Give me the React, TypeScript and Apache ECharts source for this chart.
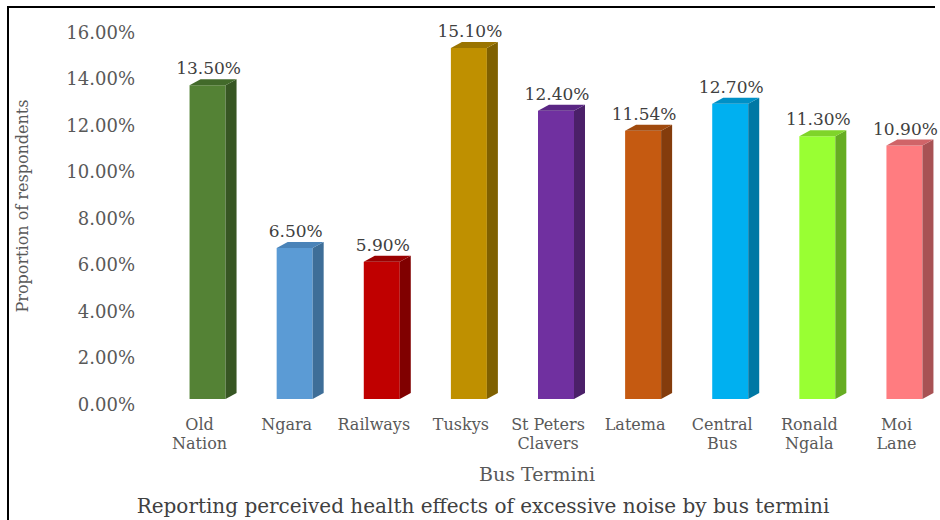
import React, { useEffect, useRef } from "react";
import * as echarts from "echarts";

const categories = ["Old\nNation", "Ngara", "Railways", "Tuskys", "St Peters\nClavers", "Latema", "Central\nBus", "Ronald\nNgala", "Moi\nLane"];
const values = [13.5, 6.5, 5.9, 15.1, 12.4, 11.54, 12.7, 11.3, 10.9];
const frontColors = ["#548235", "#5b9bd5", "#c00000", "#bf9000", "#7030a0", "#c55a11", "#00b0f0", "#99ff33", "#ff7c80"];
const sideColors = ["#375623", "#3e6e98", "#800000", "#7f6000", "#4b2069", "#843c0c", "#0078a4", "#66ad22", "#a85254"];
const topColors = ["#426a2a", "#4a83b8", "#9a0000", "#9a7400", "#5a2684", "#a04a0e", "#0090c6", "#7fd42a", "#d06468"];
const yTicks = { min: 0, max: 16, interval: 2 };

const FONT = "DejaVu Serif";

export default function App() {
  const ref = useRef<HTMLDivElement>(null);
  useEffect(() => {
    if (!ref.current) return;
    const chart = echarts.init(ref.current, null, { renderer: "svg" });
    const option: any = {
      animation: false,
      backgroundColor: "#ffffff",
      grid: { left: 156, right: 0, top: 32, bottom: 116 },
      xAxis: {
        type: "category",
        data: categories,
        axisLine: { show: false },
        axisTick: { show: false },
        axisLabel: {
          interval: 0,
          margin: 11,
          fontFamily: FONT,
          fontSize: 16,
          lineHeight: 19,
          color: "#595959",
        },
      },
      yAxis: {
        type: "value",
        min: yTicks.min,
        max: yTicks.max,
        interval: yTicks.interval,
        splitLine: { show: false },
        axisLine: { show: false },
        axisTick: { show: false },
        axisLabel: {
          margin: 21,
          fontFamily: FONT,
          fontSize: 18,
          color: "#595959",
          formatter: (v: number) => v.toFixed(2) + "%",
        },
      },
      title: [
        {
          text: "Bus Termini",
          left: 532,
          top: 459,
          textAlign: "center",
          textStyle: { fontFamily: FONT, fontSize: 19, fontWeight: "normal", color: "#595959" },
        },
        {
          text: "Reporting perceived health effects of excessive noise by bus termini",
          left: 478,
          top: 491,
          textAlign: "center",
          textStyle: { fontFamily: FONT, fontSize: 20, fontWeight: "normal", color: "#404040" },
        },
      ],
      graphic: [
        { type: "line", shape: { x1: 8, y1: 7, x2: 935, y2: 7 }, style: { stroke: "#000", lineWidth: 2 } },
        { type: "line", shape: { x1: 8, y1: 6, x2: 8, y2: 520 }, style: { stroke: "#000", lineWidth: 2 } },
        {
          type: "text",
          x: 22,
          y: 206,
          rotation: Math.PI / 2,
          style: {
            text: "Proportion of respondents",
            fontFamily: FONT,
            fontSize: 16,
            fill: "#595959",
            textAlign: "center",
            textVerticalAlign: "middle",
          },
        },
      ],
      series: [
        {
          type: "custom",
          data: values.map((v, i) => [i, v]),
          encode: { x: 0, y: 1 },
          renderItem: (params: any, api: any) => {
            const idx = params.dataIndex;
            const i = api.value(0);
            const v = api.value(1);
            const top = api.coord([i, v]);
            const base = api.coord([i, 0]);
            const shiftY = -5;
            const w = 36;
            const dx = 11;
            const dy = 6;
            const x0 = base[0] - 10;
            const yT = top[1] + shiftY;
            const yB = base[1] + shiftY;
            return {
              type: "group",
              children: [
                {
                  type: "polygon",
                  shape: { points: [[x0, yT], [x0 + w, yT], [x0 + w, yB], [x0, yB]] },
                  style: { fill: frontColors[idx] },
                },
                {
                  type: "polygon",
                  shape: { points: [[x0 + w, yT], [x0 + w + dx, yT - dy], [x0 + w + dx, yB - dy], [x0 + w, yB]] },
                  style: { fill: sideColors[idx] },
                },
                {
                  type: "polygon",
                  shape: { points: [[x0, yT], [x0 + dx, yT - dy], [x0 + w + dx, yT - dy], [x0 + w, yT]] },
                  style: { fill: topColors[idx] },
                },
                {
                  type: "text",
                  x: x0 + w / 2 + 1,
                  y: yT - dy - 11,
                  style: {
                    text: v.toFixed(2) + "%",
                    fontFamily: FONT,
                    fontSize: 17,
                    fill: "#404040",
                    textAlign: "center",
                    textVerticalAlign: "middle",
                  },
                },
              ],
            };
          },
        },
      ],
    };
    chart.setOption(option);
    return () => chart.dispose();
  }, []);
  return <div ref={ref} style={{ position: "fixed", left: 0, top: 0, width: 940, height: 520 }} />;
}
